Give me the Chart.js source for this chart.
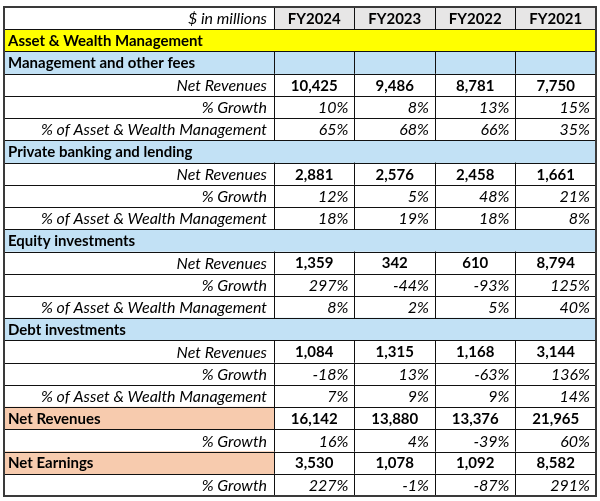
<!DOCTYPE html>
<html>
<head>
<meta charset="utf-8">
<script src="https://cdn.jsdelivr.net/npm/chart.js@4.4.1/dist/chart.umd.min.js"></script>
<style>
html,body{margin:0;padding:0;background:#fff;}
canvas{display:block;}
</style>
</head>
<body>
<canvas id="c" width="600" height="501"></canvas>
<script>
// ---- data ----
const columns = ['FY2024', 'FY2023', 'FY2022', 'FY2021'];
const unitLabel = '$ in millions';
const segmentTitle = 'Asset & Wealth Management';

const mgmtNetRevenues = [10425, 9486, 8781, 7750];
const mgmtGrowth = [10, 8, 13, 15];
const mgmtShare = [65, 68, 66, 35];

const pbNetRevenues = [2881, 2576, 2458, 1661];
const pbGrowth = [12, 5, 48, 21];
const pbShare = [18, 19, 18, 8];

const eqNetRevenues = [1359, 342, 610, 8794];
const eqGrowth = [297, -44, -93, 125];
const eqShare = [8, 2, 5, 40];

const debtNetRevenues = [1084, 1315, 1168, 3144];
const debtGrowth = [-18, 13, -63, 136];
const debtShare = [7, 9, 9, 14];

const totalNetRevenues = [16142, 13880, 13376, 21965];
const totalGrowth = [16, 4, -39, 60];

const netEarnings = [3530, 1078, 1092, 8582];
const netEarningsGrowth = [227, -1, -87, 291];

// ---- row model built from the arrays ----
const rows = [];
rows.push({type: 'header', label: unitLabel, values: columns});
rows.push({type: 'title', label: segmentTitle});
function addSection(name, merged, nr, gr, sh) {
  rows.push({type: 'section', label: name, merged: merged});
  rows.push({type: 'value', label: 'Net Revenues', values: nr});
  rows.push({type: 'pct', label: '% Growth', values: gr});
  rows.push({type: 'pct', label: '% of Asset & Wealth Management', values: sh});
}
addSection('Management and other fees', false, mgmtNetRevenues, mgmtGrowth, mgmtShare);
addSection('Private banking and lending', true, pbNetRevenues, pbGrowth, pbShare);
addSection('Equity investments', true, eqNetRevenues, eqGrowth, eqShare);
addSection('Debt investments', true, debtNetRevenues, debtGrowth, debtShare);
rows.push({type: 'total', label: 'Net Revenues', values: totalNetRevenues});
rows.push({type: 'pct', label: '% Growth', values: totalGrowth});
rows.push({type: 'total', label: 'Net Earnings', values: netEarnings});
rows.push({type: 'pct', label: '% Growth', values: netEarningsGrowth});

const rowIds = rows.map((r, i) => 'r' + i);
const LABEL_SPAN = 3.354;       // width of label column in data-column units
const X_MIN = -LABEL_SPAN, X_MAX = columns.length;

const COLORS = {
  header: '#E7E6E6', title: '#FFFF00', section: '#C2E1F5', total: '#F7CBAE'
};

// background cell fills as floating bars
const grayData = rows.map(r => r.type === 'header' ? [0, X_MAX] : null);
const yellowData = rows.map(r => r.type === 'title' ? [X_MIN, X_MAX] : null);
const blueData = rows.map(r => r.type === 'section' ? [X_MIN, X_MAX] : null);
const salmonData = rows.map(r => r.type === 'total' ? [X_MIN, 0] : null);

function ds(data, color) {
  return {data: data, backgroundColor: color, borderWidth: 0, grouped: false,
          barPercentage: 1, categoryPercentage: 1};
}

const FONT = 'Lato, "Open Sans", sans-serif';

function fitSize(ctx, style, text, target) {
  ctx.font = style + ' 20px ' + FONT;
  const w = ctx.measureText(text).width;
  return (20 * target / w).toFixed(2);
}

const tablePlugin = {
  id: 'tableGrid',
  afterDatasetsDraw(chart) {
    const ctx = chart.ctx;
    const xs = chart.scales.x, ys = chart.scales.y;
    const band = ys.getPixelForValue(1) - ys.getPixelForValue(0);
    const top = i => ys.getPixelForValue(i) - band / 2;
    const xL = xs.getPixelForValue(X_MIN), xR = xs.getPixelForValue(X_MAX);
    const colX = j => xs.getPixelForValue(j);
    ctx.save();
    // inner lines
    ctx.strokeStyle = '#111';
    ctx.lineWidth = 1;
    ctx.beginPath();
    for (let i = 1; i < rows.length; i++) {
      const y = Math.round(top(i)) + 0.5;
      ctx.moveTo(xL, y); ctx.lineTo(xR, y);
    }
    rows.forEach((r, i) => {
      if (r.type === 'title' || (r.type === 'section' && r.merged)) return;
      const y0 = top(i), y1 = top(i + 1);
      for (let j = 0; j < columns.length; j++) {
        const x = Math.round(colX(j)) + 0.5;
        ctx.moveTo(x, y0); ctx.lineTo(x, y1);
      }
    });
    ctx.stroke();
    // outer border
    ctx.strokeStyle = '#3a3a3a';
    ctx.lineWidth = 2;
    ctx.strokeRect(xL, top(0), xR - xL, top(rows.length) - top(0));

    // font sizes fitted to the reference text widths
    const itSize = fitSize(ctx, 'italic', '% of Asset & Wealth Management', 226);
    const bdSize = fitSize(ctx, 'bold', 'Asset & Wealth Management', 195);
    const IT = 'italic ' + itSize + 'px ' + FONT;
    const BD = 'bold ' + bdSize + 'px ' + FONT;

    // text
    ctx.fillStyle = '#000';
    ctx.textBaseline = 'middle';
    const padR = 7, padL = 4, padV = 6;
    rows.forEach((r, i) => {
      const yc = ys.getPixelForValue(i) + 1;
      const lblRight = colX(0) - padR;
      if (r.type === 'header') {
        ctx.font = IT;
        ctx.textAlign = 'right';
        ctx.fillText(r.label, lblRight, yc);
        ctx.font = BD;
        ctx.textAlign = 'center';
        r.values.forEach((v, j) => ctx.fillText(v, (colX(j) + colX(j + 1)) / 2, yc));
      } else if (r.type === 'title' || r.type === 'section') {
        ctx.font = BD;
        ctx.textAlign = 'left';
        ctx.fillText(r.label, xL + padL, yc);
      } else if (r.type === 'total') {
        ctx.font = BD;
        ctx.textAlign = 'left';
        ctx.fillText(r.label, xL + padL, yc);
        ctx.textAlign = 'center';
        r.values.forEach((v, j) => ctx.fillText(v.toLocaleString('en-US'), (colX(j) + colX(j + 1)) / 2, yc));
      } else if (r.type === 'value') {
        ctx.font = IT;
        ctx.textAlign = 'right';
        ctx.fillText(r.label, lblRight, yc);
        ctx.font = BD;
        ctx.textAlign = 'center';
        r.values.forEach((v, j) => ctx.fillText(v.toLocaleString('en-US'), (colX(j) + colX(j + 1)) / 2, yc));
      } else if (r.type === 'pct') {
        ctx.font = IT;
        ctx.textAlign = 'right';
        ctx.fillText(r.label, lblRight, yc);
        r.values.forEach((v, j) => ctx.fillText(v + '%', colX(j + 1) - padV, yc));
      }
    });
    ctx.restore();
  }
};

new Chart(document.getElementById('c'), {
  type: 'bar',
  data: {
    labels: rowIds,
    datasets: [
      ds(grayData, COLORS.header),
      ds(yellowData, COLORS.title),
      ds(blueData, COLORS.section),
      ds(salmonData, COLORS.total)
    ]
  },
  options: {
    indexAxis: 'y',
    responsive: false,
    animation: false,
    layout: {padding: {left: 4, top: 7, right: 4, bottom: 5}},
    scales: {
      x: {type: 'linear', min: X_MIN, max: X_MAX, display: false},
      y: {type: 'category', display: false, offset: true}
    },
    plugins: {legend: {display: false}, tooltip: {enabled: false}}
  },
  plugins: [tablePlugin]
});
</script>
</body>
</html>
